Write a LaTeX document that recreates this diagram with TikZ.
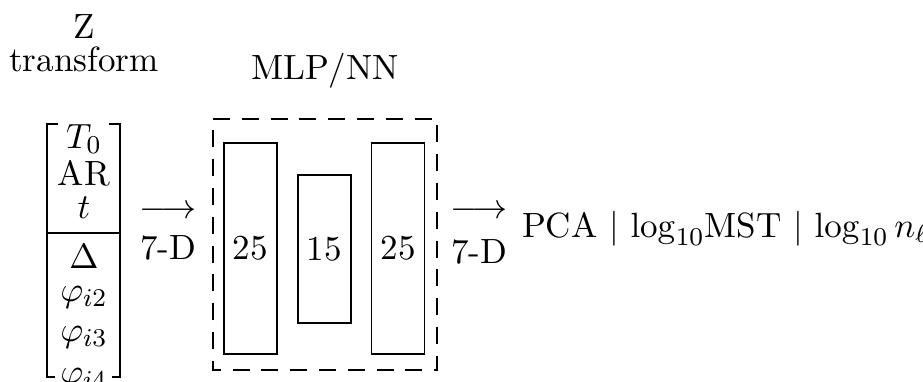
\documentclass[tikz,border=0pt,11pt]{standalone}
\usetikzlibrary{calc}
\begin{document}
\begin{tikzpicture}[x=0.3125pt,y=-0.3125pt,
  lbl/.style={inner sep=0pt,outer sep=0pt},
  layer/.style={draw,line width=0.4pt},
  brk/.style={line width=0.7pt},
  dbox/.style={draw,dash pattern=on 5.3pt off 3.7pt,line width=0.4pt}]
\useasboundingbox (0,0) rectangle (923,381);
\clip (0,0) rectangle (923,381);
% titles
\node[lbl] (z) at (84,27) {Z};
\node[lbl,anchor=base] (tr) at (84,71) {transform};
\node[lbl,anchor=base] (mlp) at (325,79) {MLP/NN};
% input vector
\coordinate (btl) at (47,124);
\coordinate (btr) at (120,124);
\coordinate (bbl) at (47,377);
\coordinate (bbr) at (120,377);
\draw[brk] ($(btl)+(11,0)$) -- (btl) -- (bbl) -- ($(bbl)+(8,0)$);
\draw[brk] ($(btr)+(-11,0)$) -- (btr) -- (bbr) -- ($(bbr)+(-8,0)$);
\draw[line width=0.4pt] (47,233) -- (120,233);
\node[lbl] (t0) at (84,139) {$T_0$};
\node[lbl] (ar) at (84,173) {AR};
\node[lbl] (tt) at (84,208) {$t$};
\node[lbl] (de) at (84,257) {$\Delta$};
\node[lbl] (p2) at (84,297) {$\varphi_{i2}$};
\node[lbl] (p3) at (84,337) {$\varphi_{i3}$};
\node[lbl] (p4) at (84,379) {$\varphi_{i4}$};
% arrow 1
\node[lbl] (a1) at (168,212) {$\longrightarrow$};
\node[lbl] (d1) at (168,248) {7-D};
% MLP box
\draw[dbox] (213,119) -- (437,119) -- (437,370) -- (213,370) -- cycle;
\node[layer,minimum width=53*0.3125pt,minimum height=211*0.3125pt,inner sep=0pt] (l1) at (250.5,248.5) {};
\node[layer,minimum width=53*0.3125pt,minimum height=148*0.3125pt,inner sep=0pt] (l2) at (324.5,249) {};
\node[layer,minimum width=53*0.3125pt,minimum height=211*0.3125pt,inner sep=0pt] (l3) at (398,248.5) {};
\node[lbl] at (l1) {25};
\node[lbl] at (l2) {15};
\node[lbl] at (l3) {25};
% arrow 2
\node[lbl] (a2) at (479,212) {$\longrightarrow$};
\node[lbl] (d2) at (479,252) {7-D};
\node[lbl,anchor=base west] (out) at (522,237) {PCA $|$ $\log_{10}$MST $|$ $\log_{10} n_\ell$};
\end{tikzpicture}
\end{document}
